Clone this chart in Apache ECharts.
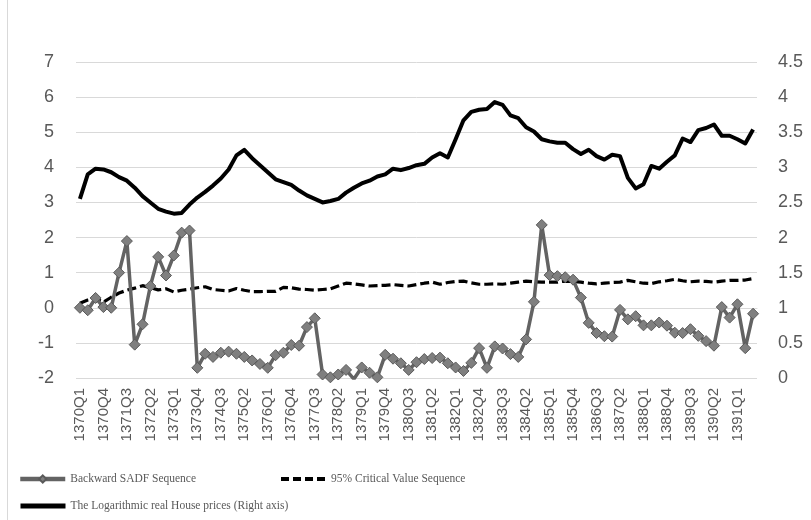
<!DOCTYPE html>
<html><head><meta charset="utf-8">
<script src="https://cdn.jsdelivr.net/npm/echarts@6/dist/echarts.min.js"></script>
<style>html,body{margin:0;padding:0;background:#fff}#c{width:811px;height:520px}</style>
</head><body><div id="c"></div>
<script>
const categories = [
'1370Q1','1370Q2','1370Q3','1370Q4','1371Q1','1371Q2','1371Q3','1371Q4',
'1372Q1','1372Q2','1372Q3','1372Q4','1373Q1','1373Q2','1373Q3','1373Q4',
'1374Q1','1374Q2','1374Q3','1374Q4','1375Q1','1375Q2','1375Q3','1375Q4',
'1376Q1','1376Q2','1376Q3','1376Q4','1377Q1','1377Q2','1377Q3','1377Q4',
'1378Q1','1378Q2','1378Q3','1378Q4','1379Q1','1379Q2','1379Q3','1379Q4',
'1380Q1','1380Q2','1380Q3','1380Q4','1381Q1','1381Q2','1381Q3','1381Q4',
'1382Q1','1382Q2','1382Q3','1382Q4','1383Q1','1383Q2','1383Q3','1383Q4',
'1384Q1','1384Q2','1384Q3','1384Q4','1385Q1','1385Q2','1385Q3','1385Q4',
'1386Q1','1386Q2','1386Q3','1386Q4','1387Q1','1387Q2','1387Q3','1387Q4',
'1388Q1','1388Q2','1388Q3','1388Q4','1389Q1','1389Q2','1389Q3','1389Q4',
'1390Q1','1390Q2','1390Q3','1390Q4','1391Q1','1391Q2','1391Q3'
];
const sadf = [
0,-0.07,0.28,0.02,0,1.0,1.9,-1.05,-0.47,0.62,1.45,0.92,1.49,2.14,2.2,-1.71,
-1.31,-1.4,-1.28,-1.25,-1.31,-1.4,-1.5,-1.6,-1.71,-1.35,-1.28,-1.06,-1.08,-0.55,-0.3,-1.9,
-1.98,-1.9,-1.77,-2.03,-1.7,-1.85,-1.98,-1.34,-1.45,-1.58,-1.77,-1.55,-1.46,-1.43,-1.42,-1.58,
-1.7,-1.8,-1.57,-1.15,-1.71,-1.1,-1.16,-1.32,-1.4,-0.9,0.17,2.36,0.93,0.9,0.87,0.8,
0.29,-0.43,-0.72,-0.81,-0.82,-0.06,-0.33,-0.24,-0.5,-0.5,-0.42,-0.51,-0.71,-0.72,-0.61,-0.8,
-0.95,-1.08,0.02,-0.28,0.1,-1.15,-0.17
];
const critical = [
0.13,0.22,0.26,0.16,0.3,0.42,0.5,0.56,0.63,0.57,0.51,0.54,0.45,0.5,0.53,0.57,
0.6,0.52,0.5,0.48,0.55,0.5,0.46,0.46,0.47,0.47,0.58,0.57,0.53,0.52,0.5,0.52,
0.54,0.62,0.7,0.68,0.65,0.62,0.63,0.64,0.66,0.64,0.62,0.66,0.7,0.73,0.67,0.72,
0.75,0.76,0.71,0.67,0.67,0.68,0.67,0.7,0.73,0.76,0.74,0.73,0.73,0.73,0.76,0.75,
0.73,0.7,0.68,0.7,0.72,0.73,0.78,0.74,0.7,0.69,0.74,0.77,0.81,0.77,0.74,0.76,
0.75,0.73,0.76,0.78,0.78,0.79,0.83
];
const housePrice = [
2.55,2.9,2.98,2.97,2.93,2.86,2.81,2.71,2.59,2.5,2.41,2.37,2.34,2.35,2.47,2.57,
2.65,2.74,2.84,2.97,3.17,3.25,3.13,3.03,2.93,2.83,2.79,2.75,2.67,2.6,2.55,2.5,
2.52,2.55,2.64,2.71,2.77,2.81,2.87,2.9,2.98,2.96,2.99,3.03,3.05,3.14,3.2,3.14,
3.4,3.67,3.79,3.82,3.83,3.93,3.89,3.74,3.7,3.57,3.51,3.4,3.37,3.35,3.35,3.26,
3.19,3.25,3.16,3.11,3.18,3.16,2.85,2.7,2.76,3.02,2.98,3.08,3.17,3.41,3.36,3.53,
3.56,3.61,3.45,3.45,3.4,3.34,3.54
];
const seriesNames = ['Backward SADF Sequence','95% Critical Value Sequence','The Logarithmic real House prices (Right axis)'];

const chart = echarts.init(document.getElementById('c'), null, {renderer:'canvas'});
const axisFont = {color:'#595959', fontFamily:'Liberation Sans, Arial, sans-serif', fontSize:18};
const legendText = {color:'#595959', fontFamily:'Liberation Serif, Times New Roman, serif', fontSize:11.5};
const legendBase = {itemWidth:45, itemHeight:14, itemGap:10, textStyle:legendText, selectedMode:false};
chart.setOption({
  animation:false,
  backgroundColor:'#fff',
  graphic:[{type:'line', shape:{x1:7.5,y1:0,x2:7.5,y2:520}, style:{stroke:'#d9d9d9', lineWidth:1}, silent:true}],
  grid:{left:76, right:54, top:62, bottom:142, containLabel:false},
  legend:[
    Object.assign({}, legendBase, {data:[seriesNames[0]], left:13, top:468,
      itemHeight:9, lineStyle:{width:4.5}}),
    Object.assign({}, legendBase, {data:[seriesNames[1]], left:274, top:468,
      itemStyle:{opacity:0}, lineStyle:{width:4, type:[8,4]}}),
    Object.assign({}, legendBase, {data:[seriesNames[2]], left:13, top:495,
      itemStyle:{opacity:0}, lineStyle:{width:5}})
  ],
  xAxis:{type:'category', data:categories, boundaryGap:true,
    axisLine:{show:true, lineStyle:{color:'#d9d9d9'}}, axisTick:{show:false},
    axisLabel:{interval:2, rotate:90, margin:10, color:'#595959', fontFamily:'Liberation Sans, Arial, sans-serif', fontSize:15}},
  yAxis:[
    {type:'value', min:-2, max:7, interval:1, position:'left',
      axisLine:{show:false}, axisTick:{show:false},
      splitLine:{lineStyle:{color:'#d9d9d9', width:1}},
      axisLabel:Object.assign({margin:22}, axisFont)},
    {type:'value', min:0, max:4.5, interval:0.5, position:'right',
      axisLine:{show:false}, axisTick:{show:false}, splitLine:{show:false},
      axisLabel:Object.assign({margin:21}, axisFont)}
  ],
  series:[
    {name:seriesNames[0], type:'line', data:sadf, yAxisIndex:0, z:4,
      symbol:'diamond', symbolSize:11, showAllSymbol:true,
      lineStyle:{color:'#636363', width:3.5},
      itemStyle:{color:'#7f7f7f', borderColor:'#5a5a5a', borderWidth:1}},
    {name:seriesNames[1], type:'line', data:critical, yAxisIndex:0, z:3,
      symbol:'none', lineStyle:{color:'#000', width:3.2, type:[9,4]},
      itemStyle:{color:'#000'}},
    {name:seriesNames[2], type:'line', data:housePrice, yAxisIndex:1, z:3,
      symbol:'none', lineStyle:{color:'#000', width:4, join:'round'},
      itemStyle:{color:'#000'}}
  ]
});
</script></body></html>
